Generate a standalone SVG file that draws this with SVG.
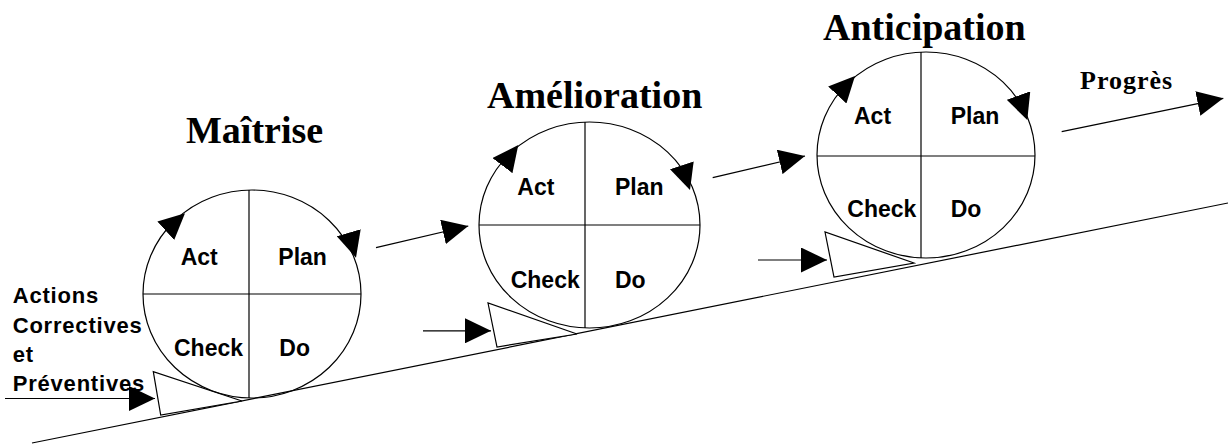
<svg xmlns="http://www.w3.org/2000/svg" width="1228" height="445" viewBox="0 0 1228 445">
<style>
.ln{stroke:#000;stroke-width:1.2;fill:none}
.cyc{stroke:#000;stroke-width:1.2;fill:none}
.wedge{stroke:#000;stroke-width:1.2;fill:#fff}
.tip{stroke:none;fill:none}
.q{font-family:"Liberation Sans",Arial,sans-serif;font-weight:bold;font-size:23px;fill:#000}
.title{font-family:"Liberation Serif","Times New Roman",serif;font-weight:bold;font-size:38px;fill:#000}
.prog{font-family:"Liberation Serif","Times New Roman",serif;font-weight:bold;font-size:26px;letter-spacing:1px;fill:#000}
.side{font-family:"Liberation Sans",Arial,sans-serif;font-weight:bold;font-size:22px;letter-spacing:0.8px;fill:#000}
</style>
<defs>
<marker id="arr" markerWidth="26" markerHeight="25" viewBox="0 0 26 25" refX="26" refY="12.5" orient="auto" markerUnits="userSpaceOnUse">
<path d="M0,0 L26,12.5 L0,25 Z" fill="#000"/>
</marker>
</defs>
<rect x="0" y="0" width="1228" height="445" fill="#fff"/>

<g id="ground">
<line class="ln" x1="32" y1="443" x2="1228" y2="203"/>
</g>

<g id="maitrise">
<polygon class="wedge" points="153.3,371.7 160.7,415 242,401"/>
<ellipse class="cyc" cx="252" cy="294" rx="109" ry="104"/>
<line class="ln" x1="249" y1="190" x2="249" y2="398"/>
<line class="ln" x1="143" y1="294" x2="361" y2="294"/>
<path class="tip" d="M164.2,232.2 L185,213.3" marker-end="url(#arr)"/>
<path class="tip" d="M348.9,233.5 L356,257.7" marker-end="url(#arr)"/>
<text class="q" x="180.7" y="265">Act</text>
<text class="q" x="278.3" y="265">Plan</text>
<text class="q" x="174" y="356">Check</text>
<text class="q" x="279.3" y="356">Do</text>
<text class="title" x="186" y="143">Maîtrise</text>
</g>

<g id="amelioration">
<polygon class="wedge" points="488,303 497,347 577,334"/>
<ellipse class="cyc" cx="589.5" cy="225" rx="110.5" ry="103"/>
<line class="ln" x1="585" y1="122" x2="585" y2="328"/>
<line class="ln" x1="479" y1="225" x2="700" y2="225"/>
<path class="tip" d="M501.7,166.7 L518.3,145" marker-end="url(#arr)"/>
<path class="tip" d="M681.7,165 L690,190" marker-end="url(#arr)"/>
<text class="q" x="517.3" y="195">Act</text>
<text class="q" x="615" y="195">Plan</text>
<text class="q" x="510.7" y="287.7">Check</text>
<text class="q" x="615" y="287.7">Do</text>
<text class="title" x="487" y="108">Amélioration</text>
</g>

<g id="anticipation">
<polygon class="wedge" points="825,232 834,277 914,263"/>
<ellipse class="cyc" cx="926" cy="155" rx="109" ry="103"/>
<line class="ln" x1="921" y1="52" x2="921" y2="258"/>
<line class="ln" x1="817" y1="156" x2="1035" y2="156"/>
<path class="tip" d="M837,95.3 L855,76" marker-end="url(#arr)"/>
<path class="tip" d="M1018.3,95 L1027.3,120" marker-end="url(#arr)"/>
<text class="q" x="854" y="124.3">Act</text>
<text class="q" x="950.7" y="124.3">Plan</text>
<text class="q" x="847.3" y="217.3">Check</text>
<text class="q" x="950.7" y="217.3">Do</text>
<text class="title" x="823" y="40">Anticipation</text>
</g>

<g id="actions">
<text class="side" x="12.7" y="303.3">Actions</text>
<text class="side" x="12.7" y="332.5">Correctives</text>
<text class="side" x="12.7" y="361.7">et</text>
<text class="side" x="12.7" y="391">Préventives</text>
</g>

<g id="progres">
<text class="prog" x="1080" y="89">Progrès</text>
</g>

<g id="connectors">
<line class="ln" x1="376" y1="247.7" x2="468.3" y2="226" marker-end="url(#arr)"/>
<line class="ln" x1="712.7" y1="177.7" x2="805" y2="156" marker-end="url(#arr)"/>
<line class="ln" x1="1061.7" y1="131.7" x2="1223.3" y2="98.3" marker-end="url(#arr)"/>
<line class="ln" x1="5" y1="398.5" x2="155" y2="398.5" marker-end="url(#arr)"/>
<line class="ln" x1="423" y1="330.8" x2="491" y2="330.8" marker-end="url(#arr)"/>
<line class="ln" x1="758" y1="260" x2="827" y2="260" marker-end="url(#arr)"/>
</g>
</svg>
